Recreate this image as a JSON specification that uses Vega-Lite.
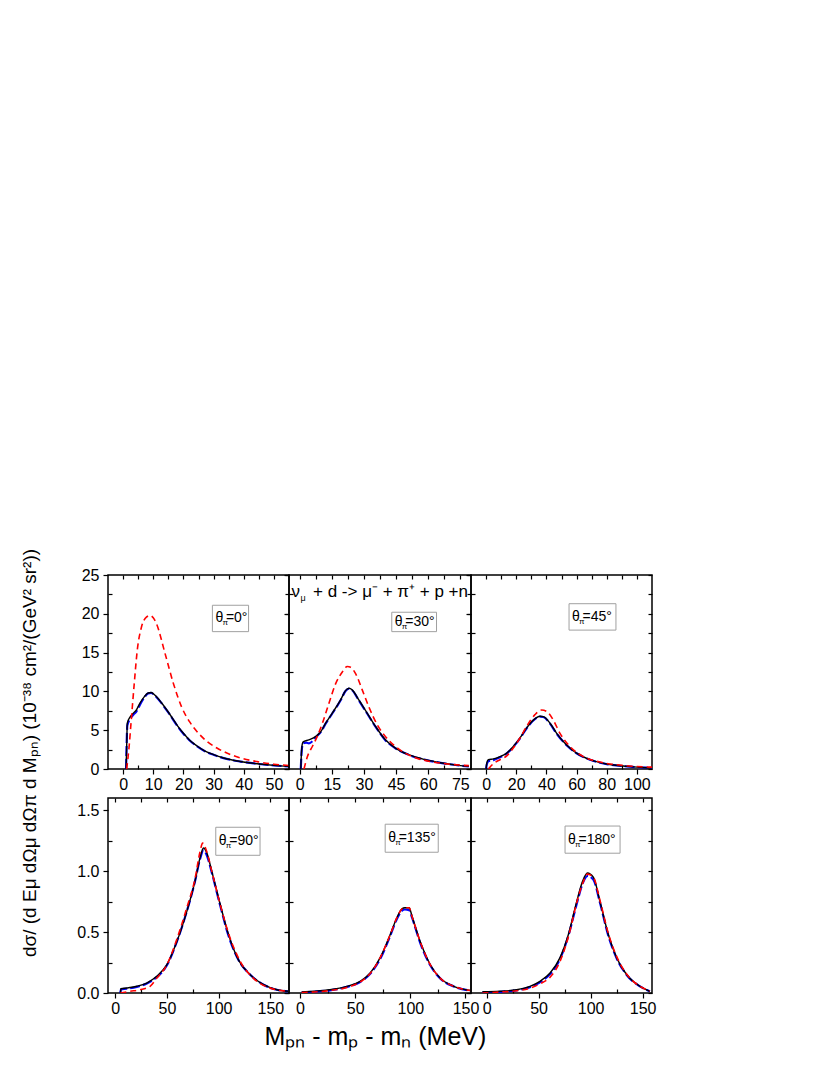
{
"$schema":"https://vega.github.io/schema/vega-lite/v6.json",
"padding":{"left":21,"top":548,"right":5,"bottom":5},
"config":{"font":"Liberation Sans","view":{"stroke":"black","strokeWidth":1.5},
"axis":{"grid":false,"domain":false,"tickColor":"black","tickWidth":1.2,"labelFontSize":16,"labelColor":"black","labelFont":"Liberation Sans"},
"title":{"color":"black","fontWeight":"normal","font":"Liberation Sans"}},
"datasets":{
"curves":[
{"p":"a","m":"k","x":1,"y":0},{"p":"a","m":"k","x":1.2,"y":3},{"p":"a","m":"k","x":1.4,"y":5.9},{"p":"a","m":"k","x":2.4,"y":6.75},{"p":"a","m":"k","x":3.4,"y":7.2},{"p":"a","m":"k","x":4.4,"y":7.6},{"p":"a","m":"k","x":5.6,"y":8.5},{"p":"a","m":"k","x":7,"y":9.3},{"p":"a","m":"k","x":8.3,"y":9.8},{"p":"a","m":"k","x":9.3,"y":9.85},{"p":"a","m":"k","x":10.6,"y":9.5},{"p":"a","m":"k","x":12.8,"y":8.5},{"p":"a","m":"k","x":14.5,"y":7.6},{"p":"a","m":"k","x":16.1,"y":6.7},{"p":"a","m":"k","x":18,"y":5.6},{"p":"a","m":"k","x":20,"y":4.6},{"p":"a","m":"k","x":22,"y":3.75},{"p":"a","m":"k","x":24.4,"y":3.0},{"p":"a","m":"k","x":27,"y":2.35},{"p":"a","m":"k","x":30,"y":1.85},{"p":"a","m":"k","x":33.3,"y":1.42},{"p":"a","m":"k","x":38.9,"y":0.97},{"p":"a","m":"k","x":44.4,"y":0.68},{"p":"a","m":"k","x":50,"y":0.47},{"p":"a","m":"k","x":55,"y":0.34},
{"p":"a","m":"b","x":1,"y":0},{"p":"a","m":"b","x":1.2,"y":3.5},{"p":"a","m":"b","x":1.4,"y":5.6},{"p":"a","m":"b","x":2.4,"y":6.5},{"p":"a","m":"b","x":3.4,"y":7.0},{"p":"a","m":"b","x":4.4,"y":7.4},{"p":"a","m":"b","x":5.6,"y":8.3},{"p":"a","m":"b","x":7,"y":9.2},{"p":"a","m":"b","x":8.3,"y":9.75},{"p":"a","m":"b","x":9.3,"y":9.8},{"p":"a","m":"b","x":10.6,"y":9.45},{"p":"a","m":"b","x":12.8,"y":8.45},{"p":"a","m":"b","x":14.5,"y":7.55},{"p":"a","m":"b","x":16.1,"y":6.65},{"p":"a","m":"b","x":18,"y":5.55},{"p":"a","m":"b","x":20,"y":4.55},{"p":"a","m":"b","x":22,"y":3.7},{"p":"a","m":"b","x":24.4,"y":2.96},{"p":"a","m":"b","x":27,"y":2.32},{"p":"a","m":"b","x":30,"y":1.83},{"p":"a","m":"b","x":33.3,"y":1.4},{"p":"a","m":"b","x":38.9,"y":0.96},{"p":"a","m":"b","x":44.4,"y":0.67},{"p":"a","m":"b","x":50,"y":0.46},{"p":"a","m":"b","x":55,"y":0.33},
{"p":"a","m":"r","x":1.2,"y":0},{"p":"a","m":"r","x":2.0,"y":2.9},{"p":"a","m":"r","x":2.8,"y":6.75},{"p":"a","m":"r","x":3.7,"y":11},{"p":"a","m":"r","x":4.7,"y":15.3},{"p":"a","m":"r","x":6.1,"y":18.3},{"p":"a","m":"r","x":7.8,"y":19.6},{"p":"a","m":"r","x":9,"y":19.8},{"p":"a","m":"r","x":10,"y":19.5},{"p":"a","m":"r","x":11.1,"y":18.7},{"p":"a","m":"r","x":13.9,"y":14.9},{"p":"a","m":"r","x":16.7,"y":11.0},{"p":"a","m":"r","x":19.4,"y":8.0},{"p":"a","m":"r","x":22.2,"y":6.0},{"p":"a","m":"r","x":25,"y":4.6},{"p":"a","m":"r","x":28,"y":3.5},{"p":"a","m":"r","x":31.1,"y":2.7},{"p":"a","m":"r","x":36.7,"y":1.7},{"p":"a","m":"r","x":44.4,"y":0.95},{"p":"a","m":"r","x":50,"y":0.62},{"p":"a","m":"r","x":55,"y":0.45},
{"p":"b","m":"k","x":0.5,"y":0},{"p":"b","m":"k","x":0.8,"y":2.0},{"p":"b","m":"k","x":1.2,"y":3.2},{"p":"b","m":"k","x":1.6,"y":3.5},{"p":"b","m":"k","x":4.3,"y":3.76},{"p":"b","m":"k","x":7.5,"y":4.2},{"p":"b","m":"k","x":9.8,"y":4.8},{"p":"b","m":"k","x":12.1,"y":5.9},{"p":"b","m":"k","x":15.2,"y":7.2},{"p":"b","m":"k","x":19.1,"y":8.9},{"p":"b","m":"k","x":21.4,"y":10.1},{"p":"b","m":"k","x":23,"y":10.4},{"p":"b","m":"k","x":24.5,"y":10.2},{"p":"b","m":"k","x":27.6,"y":8.9},{"p":"b","m":"k","x":31.5,"y":7.2},{"p":"b","m":"k","x":35.4,"y":5.5},{"p":"b","m":"k","x":40,"y":3.76},{"p":"b","m":"k","x":44.7,"y":2.7},{"p":"b","m":"k","x":50.9,"y":1.84},{"p":"b","m":"k","x":58.7,"y":1.2},{"p":"b","m":"k","x":66.5,"y":0.77},{"p":"b","m":"k","x":74.2,"y":0.47},{"p":"b","m":"k","x":79,"y":0.34},
{"p":"b","m":"b","x":0.5,"y":0},{"p":"b","m":"b","x":0.8,"y":1.8},{"p":"b","m":"b","x":1.2,"y":3.0},{"p":"b","m":"b","x":1.6,"y":3.3},{"p":"b","m":"b","x":3,"y":3.4},{"p":"b","m":"b","x":4.3,"y":3.3},{"p":"b","m":"b","x":6,"y":3.6},{"p":"b","m":"b","x":7.5,"y":4.1},{"p":"b","m":"b","x":9.8,"y":4.75},{"p":"b","m":"b","x":12.1,"y":5.85},{"p":"b","m":"b","x":15.2,"y":7.15},{"p":"b","m":"b","x":19.1,"y":8.85},{"p":"b","m":"b","x":21.4,"y":10.05},{"p":"b","m":"b","x":23,"y":10.35},{"p":"b","m":"b","x":24.5,"y":10.15},{"p":"b","m":"b","x":27.6,"y":8.85},{"p":"b","m":"b","x":31.5,"y":7.15},{"p":"b","m":"b","x":35.4,"y":5.45},{"p":"b","m":"b","x":40,"y":3.72},{"p":"b","m":"b","x":44.7,"y":2.67},{"p":"b","m":"b","x":50.9,"y":1.82},{"p":"b","m":"b","x":58.7,"y":1.18},{"p":"b","m":"b","x":66.5,"y":0.76},{"p":"b","m":"b","x":74.2,"y":0.46},{"p":"b","m":"b","x":79,"y":0.33},
{"p":"b","m":"r","x":2,"y":0},{"p":"b","m":"r","x":3.6,"y":1.6},{"p":"b","m":"r","x":5.9,"y":2.9},{"p":"b","m":"r","x":8.2,"y":4.2},{"p":"b","m":"r","x":10.6,"y":5.9},{"p":"b","m":"r","x":13.7,"y":8.5},{"p":"b","m":"r","x":16.8,"y":11},{"p":"b","m":"r","x":19.9,"y":12.5},{"p":"b","m":"r","x":22.2,"y":13.2},{"p":"b","m":"r","x":23.8,"y":13.1},{"p":"b","m":"r","x":26.1,"y":12.3},{"p":"b","m":"r","x":29.2,"y":10.2},{"p":"b","m":"r","x":32.3,"y":8},{"p":"b","m":"r","x":36.2,"y":5.7},{"p":"b","m":"r","x":40,"y":4.2},{"p":"b","m":"r","x":44.7,"y":2.9},{"p":"b","m":"r","x":52.5,"y":1.6},{"p":"b","m":"r","x":60.2,"y":1.0},{"p":"b","m":"r","x":68,"y":0.68},{"p":"b","m":"r","x":79,"y":0.43},
{"p":"c","m":"k","x":0,"y":0},{"p":"c","m":"k","x":0.5,"y":0.8},{"p":"c","m":"k","x":1.5,"y":1.2},{"p":"c","m":"k","x":4.8,"y":1.3},{"p":"c","m":"k","x":9.2,"y":1.6},{"p":"c","m":"k","x":13.7,"y":2.05},{"p":"c","m":"k","x":18,"y":2.9},{"p":"c","m":"k","x":22.5,"y":4.0},{"p":"c","m":"k","x":26.9,"y":5.3},{"p":"c","m":"k","x":31.3,"y":6.3},{"p":"c","m":"k","x":35.8,"y":6.8},{"p":"c","m":"k","x":38,"y":6.75},{"p":"c","m":"k","x":42.4,"y":5.9},{"p":"c","m":"k","x":46.8,"y":4.6},{"p":"c","m":"k","x":53.4,"y":3.1},{"p":"c","m":"k","x":60,"y":2.05},{"p":"c","m":"k","x":68.9,"y":1.2},{"p":"c","m":"k","x":80,"y":0.64},{"p":"c","m":"k","x":93.2,"y":0.34},{"p":"c","m":"k","x":106.5,"y":0.17},{"p":"c","m":"k","x":110,"y":0.15},
{"p":"c","m":"b","x":0,"y":0},{"p":"c","m":"b","x":0.5,"y":0.6},{"p":"c","m":"b","x":1.5,"y":1.0},{"p":"c","m":"b","x":4.8,"y":1.15},{"p":"c","m":"b","x":9.2,"y":1.5},{"p":"c","m":"b","x":13.7,"y":2.0},{"p":"c","m":"b","x":18,"y":2.85},{"p":"c","m":"b","x":22.5,"y":3.95},{"p":"c","m":"b","x":26.9,"y":5.25},{"p":"c","m":"b","x":31.3,"y":6.25},{"p":"c","m":"b","x":35.8,"y":6.75},{"p":"c","m":"b","x":38,"y":6.7},{"p":"c","m":"b","x":42.4,"y":5.85},{"p":"c","m":"b","x":46.8,"y":4.55},{"p":"c","m":"b","x":53.4,"y":3.07},{"p":"c","m":"b","x":60,"y":2.03},{"p":"c","m":"b","x":68.9,"y":1.19},{"p":"c","m":"b","x":80,"y":0.63},{"p":"c","m":"b","x":93.2,"y":0.33},{"p":"c","m":"b","x":106.5,"y":0.17},{"p":"c","m":"b","x":110,"y":0.15},
{"p":"c","m":"r","x":1.5,"y":0},{"p":"c","m":"r","x":4.8,"y":0.68},{"p":"c","m":"r","x":9.2,"y":1.2},{"p":"c","m":"r","x":13.7,"y":1.7},{"p":"c","m":"r","x":18,"y":2.7},{"p":"c","m":"r","x":22.5,"y":4.0},{"p":"c","m":"r","x":26.9,"y":5.5},{"p":"c","m":"r","x":32.4,"y":7.0},{"p":"c","m":"r","x":36.8,"y":7.6},{"p":"c","m":"r","x":40.2,"y":7.4},{"p":"c","m":"r","x":44.6,"y":6.3},{"p":"c","m":"r","x":49,"y":4.6},{"p":"c","m":"r","x":55.6,"y":2.9},{"p":"c","m":"r","x":64.5,"y":1.6},{"p":"c","m":"r","x":75.5,"y":0.9},{"p":"c","m":"r","x":91,"y":0.47},{"p":"c","m":"r","x":106.5,"y":0.26},{"p":"c","m":"r","x":110,"y":0.24},
{"p":"d","m":"k","x":5,"y":0},{"p":"d","m":"k","x":5.5,"y":0.035},{"p":"d","m":"k","x":11,"y":0.041},{"p":"d","m":"k","x":20.8,"y":0.055},{"p":"d","m":"k","x":30.5,"y":0.082},{"p":"d","m":"k","x":40.1,"y":0.137},{"p":"d","m":"k","x":49.8,"y":0.23},{"p":"d","m":"k","x":59.5,"y":0.42},{"p":"d","m":"k","x":69.2,"y":0.67},{"p":"d","m":"k","x":77.2,"y":0.92},{"p":"d","m":"k","x":82,"y":1.11},{"p":"d","m":"k","x":85.3,"y":1.19},{"p":"d","m":"k","x":88.5,"y":1.15},{"p":"d","m":"k","x":93.3,"y":1.0},{"p":"d","m":"k","x":101.4,"y":0.73},{"p":"d","m":"k","x":109.5,"y":0.48},{"p":"d","m":"k","x":119.2,"y":0.27},{"p":"d","m":"k","x":130.5,"y":0.15},{"p":"d","m":"k","x":143.4,"y":0.068},{"p":"d","m":"k","x":156.3,"y":0.027},{"p":"d","m":"k","x":167,"y":0.014},
{"p":"d","m":"b","x":5,"y":0},{"p":"d","m":"b","x":5.5,"y":0.03},{"p":"d","m":"b","x":11,"y":0.035},{"p":"d","m":"b","x":20.8,"y":0.05},{"p":"d","m":"b","x":30.5,"y":0.078},{"p":"d","m":"b","x":40.1,"y":0.13},{"p":"d","m":"b","x":49.8,"y":0.225},{"p":"d","m":"b","x":59.5,"y":0.42},{"p":"d","m":"b","x":69.2,"y":0.67},{"p":"d","m":"b","x":77.2,"y":0.92},{"p":"d","m":"b","x":82,"y":1.1},{"p":"d","m":"b","x":85.3,"y":1.17},{"p":"d","m":"b","x":88.5,"y":1.13},{"p":"d","m":"b","x":93.3,"y":0.99},{"p":"d","m":"b","x":101.4,"y":0.72},{"p":"d","m":"b","x":109.5,"y":0.47},{"p":"d","m":"b","x":119.2,"y":0.27},{"p":"d","m":"b","x":130.5,"y":0.15},{"p":"d","m":"b","x":143.4,"y":0.068},{"p":"d","m":"b","x":156.3,"y":0.027},{"p":"d","m":"b","x":167,"y":0.014},
{"p":"d","m":"r","x":5,"y":0},{"p":"d","m":"r","x":14.3,"y":0.014},{"p":"d","m":"r","x":24,"y":0.027},{"p":"d","m":"r","x":33.7,"y":0.055},{"p":"d","m":"r","x":40,"y":0.12},{"p":"d","m":"r","x":49.8,"y":0.23},{"p":"d","m":"r","x":59.5,"y":0.44},{"p":"d","m":"r","x":69.2,"y":0.7},{"p":"d","m":"r","x":77.2,"y":0.94},{"p":"d","m":"r","x":82,"y":1.16},{"p":"d","m":"r","x":84.5,"y":1.23},{"p":"d","m":"r","x":88.5,"y":1.16},{"p":"d","m":"r","x":93.3,"y":1.0},{"p":"d","m":"r","x":101.4,"y":0.73},{"p":"d","m":"r","x":109.5,"y":0.49},{"p":"d","m":"r","x":120.8,"y":0.26},{"p":"d","m":"r","x":133.7,"y":0.12},{"p":"d","m":"r","x":149.8,"y":0.04},{"p":"d","m":"r","x":167,"y":0.014},
{"p":"e","m":"k","x":1.5,"y":0.008},{"p":"e","m":"k","x":12,"y":0.014},{"p":"e","m":"k","x":27,"y":0.027},{"p":"e","m":"k","x":42.4,"y":0.055},{"p":"e","m":"k","x":54.5,"y":0.096},{"p":"e","m":"k","x":63.6,"y":0.164},{"p":"e","m":"k","x":72.7,"y":0.29},{"p":"e","m":"k","x":81.8,"y":0.48},{"p":"e","m":"k","x":87.9,"y":0.62},{"p":"e","m":"k","x":92.4,"y":0.69},{"p":"e","m":"k","x":95,"y":0.7},{"p":"e","m":"k","x":99,"y":0.7},{"p":"e","m":"k","x":101.5,"y":0.63},{"p":"e","m":"k","x":109,"y":0.42},{"p":"e","m":"k","x":118.2,"y":0.23},{"p":"e","m":"k","x":127.3,"y":0.12},{"p":"e","m":"k","x":139.4,"y":0.055},{"p":"e","m":"k","x":154.5,"y":0.02},
{"p":"e","m":"b","x":1.5,"y":0.006},{"p":"e","m":"b","x":12,"y":0.01},{"p":"e","m":"b","x":27,"y":0.022},{"p":"e","m":"b","x":42.4,"y":0.05},{"p":"e","m":"b","x":54.5,"y":0.09},{"p":"e","m":"b","x":63.6,"y":0.158},{"p":"e","m":"b","x":72.7,"y":0.28},{"p":"e","m":"b","x":81.8,"y":0.47},{"p":"e","m":"b","x":87.9,"y":0.61},{"p":"e","m":"b","x":92.4,"y":0.675},{"p":"e","m":"b","x":95,"y":0.685},{"p":"e","m":"b","x":99,"y":0.68},{"p":"e","m":"b","x":101.5,"y":0.62},{"p":"e","m":"b","x":109,"y":0.41},{"p":"e","m":"b","x":118.2,"y":0.225},{"p":"e","m":"b","x":127.3,"y":0.118},{"p":"e","m":"b","x":139.4,"y":0.054},{"p":"e","m":"b","x":154.5,"y":0.02},
{"p":"e","m":"r","x":1.5,"y":0.004},{"p":"e","m":"r","x":12,"y":0.008},{"p":"e","m":"r","x":27,"y":0.02},{"p":"e","m":"r","x":42.4,"y":0.045},{"p":"e","m":"r","x":54.5,"y":0.09},{"p":"e","m":"r","x":63.6,"y":0.16},{"p":"e","m":"r","x":72.7,"y":0.29},{"p":"e","m":"r","x":81.8,"y":0.48},{"p":"e","m":"r","x":87.9,"y":0.62},{"p":"e","m":"r","x":92.4,"y":0.69},{"p":"e","m":"r","x":95,"y":0.7},{"p":"e","m":"r","x":99,"y":0.7},{"p":"e","m":"r","x":101.5,"y":0.63},{"p":"e","m":"r","x":109,"y":0.42},{"p":"e","m":"r","x":118.2,"y":0.23},{"p":"e","m":"r","x":127.3,"y":0.12},{"p":"e","m":"r","x":139.4,"y":0.055},{"p":"e","m":"r","x":154.5,"y":0.02},
{"p":"f","m":"k","x":-4,"y":0.01},{"p":"f","m":"k","x":12.9,"y":0.014},{"p":"f","m":"k","x":28.9,"y":0.027},{"p":"f","m":"k","x":41.7,"y":0.055},{"p":"f","m":"k","x":51.3,"y":0.096},{"p":"f","m":"k","x":61,"y":0.164},{"p":"f","m":"k","x":70.6,"y":0.29},{"p":"f","m":"k","x":78.6,"y":0.48},{"p":"f","m":"k","x":86.6,"y":0.75},{"p":"f","m":"k","x":92.4,"y":0.92},{"p":"f","m":"k","x":96.9,"y":0.985},{"p":"f","m":"k","x":102.6,"y":0.95},{"p":"f","m":"k","x":109,"y":0.75},{"p":"f","m":"k","x":117,"y":0.48},{"p":"f","m":"k","x":125,"y":0.29},{"p":"f","m":"k","x":134.7,"y":0.15},{"p":"f","m":"k","x":147.5,"y":0.055},{"p":"f","m":"k","x":157,"y":0.014},
{"p":"f","m":"b","x":-4,"y":0.005},{"p":"f","m":"b","x":12.9,"y":0.01},{"p":"f","m":"b","x":28.9,"y":0.022},{"p":"f","m":"b","x":41.7,"y":0.048},{"p":"f","m":"b","x":51.3,"y":0.088},{"p":"f","m":"b","x":61,"y":0.155},{"p":"f","m":"b","x":70.6,"y":0.28},{"p":"f","m":"b","x":78.6,"y":0.47},{"p":"f","m":"b","x":86.6,"y":0.73},{"p":"f","m":"b","x":92.4,"y":0.9},{"p":"f","m":"b","x":96.9,"y":0.96},{"p":"f","m":"b","x":102.6,"y":0.93},{"p":"f","m":"b","x":109,"y":0.74},{"p":"f","m":"b","x":117,"y":0.47},{"p":"f","m":"b","x":125,"y":0.285},{"p":"f","m":"b","x":134.7,"y":0.148},{"p":"f","m":"b","x":147.5,"y":0.054},{"p":"f","m":"b","x":157,"y":0.014},
{"p":"f","m":"r","x":-4,"y":0},{"p":"f","m":"r","x":12.9,"y":0.008},{"p":"f","m":"r","x":28.9,"y":0.018},{"p":"f","m":"r","x":41.7,"y":0.04},{"p":"f","m":"r","x":51.3,"y":0.075},{"p":"f","m":"r","x":61,"y":0.13},{"p":"f","m":"r","x":70.6,"y":0.26},{"p":"f","m":"r","x":78.6,"y":0.46},{"p":"f","m":"r","x":86.6,"y":0.74},{"p":"f","m":"r","x":92.4,"y":0.9},{"p":"f","m":"r","x":96.9,"y":0.975},{"p":"f","m":"r","x":102.6,"y":0.95},{"p":"f","m":"r","x":109,"y":0.76},{"p":"f","m":"r","x":117,"y":0.49},{"p":"f","m":"r","x":125,"y":0.3},{"p":"f","m":"r","x":134.7,"y":0.155},{"p":"f","m":"r","x":147.5,"y":0.055},{"p":"f","m":"r","x":157,"y":0.016}
],
"boxes":[
{"p":"a","lx":29.6,"rx":41.6,"ty":21.1,"by":17.7,"my":19.4,"t":"=0°"},
{"p":"b","lx":43,"rx":63.9,"ty":20.2,"by":17.7,"my":18.95,"t":"=30°"},
{"p":"c","lx":55,"rx":86.1,"ty":21.3,"by":17.9,"my":19.6,"t":"=45°"},
{"p":"d","lx":97.2,"rx":140,"ty":1.36,"by":1.13,"my":1.245,"t":"=90°"},
{"p":"e","lx":77.2,"rx":125.3,"ty":1.385,"by":1.155,"my":1.27,"t":"=135°"},
{"p":"f","lx":75.4,"rx":128.3,"ty":1.37,"by":1.147,"my":1.258,"t":"=180°"}
]},
"title":{"text":"dσ/ (d Eμ dΩμ dΩπ d Mₚₙ) (10⁻³⁸ cm²/(GeV² sr²))","orient":"left","anchor":"middle","fontSize":19,"offset":36,"dx":55},
"spacing":3,
"vconcat":[
{"spacing":0,"bounds":"flush","hconcat":[
{"width":181,"height":194,"resolve":{"axis":{"x":"independent","y":"independent"}},"layer":[
{"data":{"name":"curves"},"transform":[{"filter":"datum.p=='a' && datum.m=='b'"}],"mark":{"type":"line","color":"#0000ff","strokeWidth":2.2,"strokeDash":[10,3],"interpolate":"monotone","clip":true},
"encoding":{"x":{"field":"x","type":"quantitative","scale":{"domain":[-5,55],"nice":false,"zero":false},"axis":{"orient":"bottom","values":[0,10,20,30,40,50],"tickSize":5,"title":null,"labelFlush":false,"labelOverlap":false,"labelPadding":2}},
"y":{"field":"y","type":"quantitative","scale":{"domain":[0,25],"nice":false,"zero":false},"axis":{"orient":"left","values":[0,5,10,15,20,25],"tickSize":5,"title":null,"labelFlush":false,"labelOverlap":false,"labelPadding":4}}}},
{"data":{"name":"curves"},"transform":[{"filter":"datum.p=='a' && datum.m=='k'"}],"mark":{"type":"line","color":"black","strokeWidth":1.4,"interpolate":"monotone","clip":true},
"encoding":{"x":{"field":"x","type":"quantitative","scale":{"domain":[-5,55],"nice":false,"zero":false},"axis":{"orient":"bottom","values":[5,15,25,35,45],"tickSize":-4,"labels":false,"title":null}},
"y":{"field":"y","type":"quantitative","scale":{"domain":[0,25],"nice":false,"zero":false},"axis":{"orient":"left","values":[2.5,7.5,12.5,17.5,22.5],"tickSize":-4,"labels":false,"title":null}}}},
{"data":{"name":"curves"},"transform":[{"filter":"datum.p=='a' && datum.m=='r'"}],"mark":{"type":"line","color":"#ff0000","strokeWidth":1.6,"strokeDash":[6,4],"interpolate":"monotone","clip":true},
"encoding":{"x":{"field":"x","type":"quantitative","scale":{"domain":[-5,55],"nice":false,"zero":false},"axis":null},"y":{"field":"y","type":"quantitative","scale":{"domain":[0,25],"nice":false,"zero":false},"axis":null}}},
{"data":{"name":"boxes"},"transform":[{"filter":"datum.p=='a'"}],"mark":{"type":"rect","fill":"white","stroke":"#a0a0a0","strokeWidth":1},
"encoding":{"x":{"field":"lx","type":"quantitative","scale":{"domain":[-5,55],"nice":false,"zero":false},"axis":{"orient":"top","values":[0,5,10,15,20,25,30,35,40,45,50],"tickSize":-4,"labels":false,"title":null}},"x2":{"field":"rx"},
"y":{"field":"ty","type":"quantitative","scale":{"domain":[0,25],"nice":false,"zero":false},"axis":{"orient":"right","values":[0,2.5,5,7.5,10,12.5,15,17.5,20,22.5,25],"tickSize":-4,"labels":false,"title":null}},"y2":{"field":"by"}}},
{"data":{"name":"boxes"},"transform":[{"filter":"datum.p=='a'"}],"mark":{"type":"text","text":"θ","align":"left","baseline":"middle","dx":3,"fontSize":14},
"encoding":{"x":{"field":"lx","type":"quantitative","scale":{"domain":[-5,55],"nice":false,"zero":false},"axis":null},"y":{"field":"my","type":"quantitative","scale":{"domain":[0,25],"nice":false,"zero":false},"axis":null}}},
{"data":{"name":"boxes"},"transform":[{"filter":"datum.p=='a'"}],"mark":{"type":"text","text":"π","align":"left","baseline":"middle","dx":10,"dy":5,"fontSize":8},
"encoding":{"x":{"field":"lx","type":"quantitative","scale":{"domain":[-5,55],"nice":false,"zero":false},"axis":null},"y":{"field":"my","type":"quantitative","scale":{"domain":[0,25],"nice":false,"zero":false},"axis":null}}},
{"data":{"name":"boxes"},"transform":[{"filter":"datum.p=='a'"}],"mark":{"type":"text","align":"left","baseline":"middle","dx":13.5,"fontSize":14},
"encoding":{"text":{"field":"t"},"x":{"field":"lx","type":"quantitative","scale":{"domain":[-5,55],"nice":false,"zero":false},"axis":null},"y":{"field":"my","type":"quantitative","scale":{"domain":[0,25],"nice":false,"zero":false},"axis":null}}}
]},
{"width":182,"height":194,"resolve":{"axis":{"x":"independent","y":"independent"}},"layer":[
{"data":{"name":"curves"},"transform":[{"filter":"datum.p=='b' && datum.m=='b'"}],"mark":{"type":"line","color":"#0000ff","strokeWidth":2.2,"strokeDash":[10,3],"interpolate":"monotone","clip":true},
"encoding":{"x":{"field":"x","type":"quantitative","scale":{"domain":[-5,80],"nice":false,"zero":false},"axis":{"orient":"bottom","values":[0,15,30,45,60,75],"tickSize":5,"title":null,"labelFlush":false,"labelOverlap":false,"labelPadding":2}},
"y":{"field":"y","type":"quantitative","scale":{"domain":[0,25],"nice":false,"zero":false},"axis":{"orient":"left","values":[0,5,10,15,20,25],"tickSize":5,"labels":false,"title":null}}}},
{"data":{"name":"curves"},"transform":[{"filter":"datum.p=='b' && datum.m=='k'"}],"mark":{"type":"line","color":"black","strokeWidth":1.4,"interpolate":"monotone","clip":true},
"encoding":{"x":{"field":"x","type":"quantitative","scale":{"domain":[-5,80],"nice":false,"zero":false},"axis":{"orient":"bottom","values":[7.5,22.5,37.5,52.5,67.5],"tickSize":-4,"labels":false,"title":null}},
"y":{"field":"y","type":"quantitative","scale":{"domain":[0,25],"nice":false,"zero":false},"axis":{"orient":"left","values":[2.5,7.5,12.5,17.5,22.5],"tickSize":-4,"labels":false,"title":null}}}},
{"data":{"name":"curves"},"transform":[{"filter":"datum.p=='b' && datum.m=='r'"}],"mark":{"type":"line","color":"#ff0000","strokeWidth":1.6,"strokeDash":[6,4],"interpolate":"monotone","clip":true},
"encoding":{"x":{"field":"x","type":"quantitative","scale":{"domain":[-5,80],"nice":false,"zero":false},"axis":null},"y":{"field":"y","type":"quantitative","scale":{"domain":[0,25],"nice":false,"zero":false},"axis":null}}},
{"data":{"name":"boxes"},"transform":[{"filter":"datum.p=='b'"}],"mark":{"type":"rect","fill":"white","stroke":"#a0a0a0","strokeWidth":1},
"encoding":{"x":{"field":"lx","type":"quantitative","scale":{"domain":[-5,80],"nice":false,"zero":false},"axis":{"orient":"top","values":[0,7.5,15,22.5,30,37.5,45,52.5,60,67.5,75],"tickSize":-4,"labels":false,"title":null}},"x2":{"field":"rx"},
"y":{"field":"ty","type":"quantitative","scale":{"domain":[0,25],"nice":false,"zero":false},"axis":{"orient":"right","values":[0,2.5,5,7.5,10,12.5,15,17.5,20,22.5,25],"tickSize":-4,"labels":false,"title":null}},"y2":{"field":"by"}}},
{"data":{"name":"boxes"},"transform":[{"filter":"datum.p=='b'"}],"mark":{"type":"text","text":"θ","align":"left","baseline":"middle","dx":3,"fontSize":14},
"encoding":{"x":{"field":"lx","type":"quantitative","scale":{"domain":[-5,80],"nice":false,"zero":false},"axis":null},"y":{"field":"my","type":"quantitative","scale":{"domain":[0,25],"nice":false,"zero":false},"axis":null}}},
{"data":{"name":"boxes"},"transform":[{"filter":"datum.p=='b'"}],"mark":{"type":"text","text":"π","align":"left","baseline":"middle","dx":10,"dy":5,"fontSize":8},
"encoding":{"x":{"field":"lx","type":"quantitative","scale":{"domain":[-5,80],"nice":false,"zero":false},"axis":null},"y":{"field":"my","type":"quantitative","scale":{"domain":[0,25],"nice":false,"zero":false},"axis":null}}},
{"data":{"name":"boxes"},"transform":[{"filter":"datum.p=='b'"}],"mark":{"type":"text","align":"left","baseline":"middle","dx":13.5,"fontSize":14},
"encoding":{"text":{"field":"t"},"x":{"field":"lx","type":"quantitative","scale":{"domain":[-5,80],"nice":false,"zero":false},"axis":null},"y":{"field":"my","type":"quantitative","scale":{"domain":[0,25],"nice":false,"zero":false},"axis":null}}},
{"data":{"values":[{}]},"mark":{"type":"text","text":"ν","align":"left","baseline":"alphabetic","dx":2.5,"fontSize":17},
"encoding":{"x":{"datum":-5,"type":"quantitative","scale":{"domain":[-5,80],"nice":false,"zero":false},"axis":null},"y":{"datum":22.2,"type":"quantitative","scale":{"domain":[0,25],"nice":false,"zero":false},"axis":null}}},
{"data":{"values":[{}]},"mark":{"type":"text","text":"μ","align":"left","baseline":"alphabetic","dx":11.5,"dy":4,"fontSize":9},
"encoding":{"x":{"datum":-5,"type":"quantitative","scale":{"domain":[-5,80],"nice":false,"zero":false},"axis":null},"y":{"datum":22.2,"type":"quantitative","scale":{"domain":[0,25],"nice":false,"zero":false},"axis":null}}},
{"data":{"values":[{}]},"mark":{"type":"text","text":"+ d -> μ⁻ + π⁺ + p +n","align":"left","baseline":"alphabetic","dx":24,"fontSize":17},
"encoding":{"x":{"datum":-5,"type":"quantitative","scale":{"domain":[-5,80],"nice":false,"zero":false},"axis":null},"y":{"datum":22.2,"type":"quantitative","scale":{"domain":[0,25],"nice":false,"zero":false},"axis":null}}}
]},
{"width":181,"height":194,"resolve":{"axis":{"x":"independent","y":"independent"}},"layer":[
{"data":{"name":"curves"},"transform":[{"filter":"datum.p=='c' && datum.m=='b'"}],"mark":{"type":"line","color":"#0000ff","strokeWidth":2.2,"strokeDash":[10,3],"interpolate":"monotone","clip":true},
"encoding":{"x":{"field":"x","type":"quantitative","scale":{"domain":[-10,110],"nice":false,"zero":false},"axis":{"orient":"bottom","values":[0,20,40,60,80,100],"tickSize":5,"title":null,"labelFlush":false,"labelOverlap":false,"labelPadding":2}},
"y":{"field":"y","type":"quantitative","scale":{"domain":[0,25],"nice":false,"zero":false},"axis":{"orient":"left","values":[0,5,10,15,20,25],"tickSize":5,"labels":false,"title":null}}}},
{"data":{"name":"curves"},"transform":[{"filter":"datum.p=='c' && datum.m=='k'"}],"mark":{"type":"line","color":"black","strokeWidth":1.4,"interpolate":"monotone","clip":true},
"encoding":{"x":{"field":"x","type":"quantitative","scale":{"domain":[-10,110],"nice":false,"zero":false},"axis":{"orient":"bottom","values":[10,30,50,70,90],"tickSize":-4,"labels":false,"title":null}},
"y":{"field":"y","type":"quantitative","scale":{"domain":[0,25],"nice":false,"zero":false},"axis":{"orient":"left","values":[2.5,7.5,12.5,17.5,22.5],"tickSize":-4,"labels":false,"title":null}}}},
{"data":{"name":"curves"},"transform":[{"filter":"datum.p=='c' && datum.m=='r'"}],"mark":{"type":"line","color":"#ff0000","strokeWidth":1.6,"strokeDash":[6,4],"interpolate":"monotone","clip":true},
"encoding":{"x":{"field":"x","type":"quantitative","scale":{"domain":[-10,110],"nice":false,"zero":false},"axis":null},"y":{"field":"y","type":"quantitative","scale":{"domain":[0,25],"nice":false,"zero":false},"axis":null}}},
{"data":{"name":"boxes"},"transform":[{"filter":"datum.p=='c'"}],"mark":{"type":"rect","fill":"white","stroke":"#a0a0a0","strokeWidth":1},
"encoding":{"x":{"field":"lx","type":"quantitative","scale":{"domain":[-10,110],"nice":false,"zero":false},"axis":{"orient":"top","values":[0,10,20,30,40,50,60,70,80,90,100],"tickSize":-4,"labels":false,"title":null}},"x2":{"field":"rx"},
"y":{"field":"ty","type":"quantitative","scale":{"domain":[0,25],"nice":false,"zero":false},"axis":{"orient":"right","values":[0,2.5,5,7.5,10,12.5,15,17.5,20,22.5,25],"tickSize":-4,"labels":false,"title":null}},"y2":{"field":"by"}}},
{"data":{"name":"boxes"},"transform":[{"filter":"datum.p=='c'"}],"mark":{"type":"text","text":"θ","align":"left","baseline":"middle","dx":3,"fontSize":14},
"encoding":{"x":{"field":"lx","type":"quantitative","scale":{"domain":[-10,110],"nice":false,"zero":false},"axis":null},"y":{"field":"my","type":"quantitative","scale":{"domain":[0,25],"nice":false,"zero":false},"axis":null}}},
{"data":{"name":"boxes"},"transform":[{"filter":"datum.p=='c'"}],"mark":{"type":"text","text":"π","align":"left","baseline":"middle","dx":10,"dy":5,"fontSize":8},
"encoding":{"x":{"field":"lx","type":"quantitative","scale":{"domain":[-10,110],"nice":false,"zero":false},"axis":null},"y":{"field":"my","type":"quantitative","scale":{"domain":[0,25],"nice":false,"zero":false},"axis":null}}},
{"data":{"name":"boxes"},"transform":[{"filter":"datum.p=='c'"}],"mark":{"type":"text","align":"left","baseline":"middle","dx":13.5,"fontSize":14},
"encoding":{"text":{"field":"t"},"x":{"field":"lx","type":"quantitative","scale":{"domain":[-10,110],"nice":false,"zero":false},"axis":null},"y":{"field":"my","type":"quantitative","scale":{"domain":[0,25],"nice":false,"zero":false},"axis":null}}}
]}
]},
{"spacing":0,"bounds":"flush","title":{"text":"Mₚₙ - mₚ - mₙ (MeV)","orient":"bottom","anchor":"middle","fontSize":25,"offset":8,"dx":9},"hconcat":[
{"width":181,"height":195,"resolve":{"axis":{"x":"independent","y":"independent"}},"layer":[
{"data":{"name":"curves"},"transform":[{"filter":"datum.p=='d' && datum.m=='b'"}],"mark":{"type":"line","color":"#0000ff","strokeWidth":2.2,"strokeDash":[10,3],"interpolate":"monotone","clip":true},
"encoding":{"x":{"field":"x","type":"quantitative","scale":{"domain":[-7,168],"nice":false,"zero":false},"axis":{"orient":"bottom","values":[0,50,100,150],"tickSize":5,"title":null,"labelFlush":false,"labelOverlap":false,"labelPadding":2}},
"y":{"field":"y","type":"quantitative","scale":{"domain":[0,1.6],"nice":false,"zero":false},"axis":{"orient":"left","values":[0,0.5,1,1.5],"format":".1f","tickSize":5,"title":null,"labelFlush":false,"labelOverlap":false,"labelPadding":4}}}},
{"data":{"name":"curves"},"transform":[{"filter":"datum.p=='d' && datum.m=='k'"}],"mark":{"type":"line","color":"black","strokeWidth":1.4,"interpolate":"monotone","clip":true},
"encoding":{"x":{"field":"x","type":"quantitative","scale":{"domain":[-7,168],"nice":false,"zero":false},"axis":{"orient":"bottom","values":[25,75,125],"tickSize":-4,"labels":false,"title":null}},
"y":{"field":"y","type":"quantitative","scale":{"domain":[0,1.6],"nice":false,"zero":false},"axis":{"orient":"left","values":[0.25,0.75,1.25],"tickSize":-4,"labels":false,"title":null}}}},
{"data":{"name":"curves"},"transform":[{"filter":"datum.p=='d' && datum.m=='r'"}],"mark":{"type":"line","color":"#ff0000","strokeWidth":1.6,"strokeDash":[6,4],"interpolate":"monotone","clip":true},
"encoding":{"x":{"field":"x","type":"quantitative","scale":{"domain":[-7,168],"nice":false,"zero":false},"axis":null},"y":{"field":"y","type":"quantitative","scale":{"domain":[0,1.6],"nice":false,"zero":false},"axis":null}}},
{"data":{"name":"boxes"},"transform":[{"filter":"datum.p=='d'"}],"mark":{"type":"rect","fill":"white","stroke":"#a0a0a0","strokeWidth":1},
"encoding":{"x":{"field":"lx","type":"quantitative","scale":{"domain":[-7,168],"nice":false,"zero":false},"axis":{"orient":"top","values":[0,25,50,75,100,125,150],"tickSize":-4,"labels":false,"title":null}},"x2":{"field":"rx"},
"y":{"field":"ty","type":"quantitative","scale":{"domain":[0,1.6],"nice":false,"zero":false},"axis":{"orient":"right","values":[0,0.25,0.5,0.75,1,1.25,1.5],"tickSize":-4,"labels":false,"title":null}},"y2":{"field":"by"}}},
{"data":{"name":"boxes"},"transform":[{"filter":"datum.p=='d'"}],"mark":{"type":"text","text":"θ","align":"left","baseline":"middle","dx":3,"fontSize":14},
"encoding":{"x":{"field":"lx","type":"quantitative","scale":{"domain":[-7,168],"nice":false,"zero":false},"axis":null},"y":{"field":"my","type":"quantitative","scale":{"domain":[0,1.6],"nice":false,"zero":false},"axis":null}}},
{"data":{"name":"boxes"},"transform":[{"filter":"datum.p=='d'"}],"mark":{"type":"text","text":"π","align":"left","baseline":"middle","dx":10,"dy":5,"fontSize":8},
"encoding":{"x":{"field":"lx","type":"quantitative","scale":{"domain":[-7,168],"nice":false,"zero":false},"axis":null},"y":{"field":"my","type":"quantitative","scale":{"domain":[0,1.6],"nice":false,"zero":false},"axis":null}}},
{"data":{"name":"boxes"},"transform":[{"filter":"datum.p=='d'"}],"mark":{"type":"text","align":"left","baseline":"middle","dx":13.5,"fontSize":14},
"encoding":{"text":{"field":"t"},"x":{"field":"lx","type":"quantitative","scale":{"domain":[-7,168],"nice":false,"zero":false},"axis":null},"y":{"field":"my","type":"quantitative","scale":{"domain":[0,1.6],"nice":false,"zero":false},"axis":null}}}
]},
{"width":182,"height":195,"resolve":{"axis":{"x":"independent","y":"independent"}},"layer":[
{"data":{"name":"curves"},"transform":[{"filter":"datum.p=='e' && datum.m=='b'"}],"mark":{"type":"line","color":"#0000ff","strokeWidth":2.2,"strokeDash":[10,3],"interpolate":"monotone","clip":true},
"encoding":{"x":{"field":"x","type":"quantitative","scale":{"domain":[-10,155],"nice":false,"zero":false},"axis":{"orient":"bottom","values":[0,50,100,150],"tickSize":5,"title":null,"labelFlush":false,"labelOverlap":false,"labelPadding":2}},
"y":{"field":"y","type":"quantitative","scale":{"domain":[0,1.6],"nice":false,"zero":false},"axis":{"orient":"left","values":[0,0.5,1,1.5],"tickSize":5,"labels":false,"title":null}}}},
{"data":{"name":"curves"},"transform":[{"filter":"datum.p=='e' && datum.m=='k'"}],"mark":{"type":"line","color":"black","strokeWidth":1.4,"interpolate":"monotone","clip":true},
"encoding":{"x":{"field":"x","type":"quantitative","scale":{"domain":[-10,155],"nice":false,"zero":false},"axis":{"orient":"bottom","values":[25,75,125],"tickSize":-4,"labels":false,"title":null}},
"y":{"field":"y","type":"quantitative","scale":{"domain":[0,1.6],"nice":false,"zero":false},"axis":{"orient":"left","values":[0.25,0.75,1.25],"tickSize":-4,"labels":false,"title":null}}}},
{"data":{"name":"curves"},"transform":[{"filter":"datum.p=='e' && datum.m=='r'"}],"mark":{"type":"line","color":"#ff0000","strokeWidth":1.6,"strokeDash":[6,4],"interpolate":"monotone","clip":true},
"encoding":{"x":{"field":"x","type":"quantitative","scale":{"domain":[-10,155],"nice":false,"zero":false},"axis":null},"y":{"field":"y","type":"quantitative","scale":{"domain":[0,1.6],"nice":false,"zero":false},"axis":null}}},
{"data":{"name":"boxes"},"transform":[{"filter":"datum.p=='e'"}],"mark":{"type":"rect","fill":"white","stroke":"#a0a0a0","strokeWidth":1},
"encoding":{"x":{"field":"lx","type":"quantitative","scale":{"domain":[-10,155],"nice":false,"zero":false},"axis":{"orient":"top","values":[0,25,50,75,100,125,150],"tickSize":-4,"labels":false,"title":null}},"x2":{"field":"rx"},
"y":{"field":"ty","type":"quantitative","scale":{"domain":[0,1.6],"nice":false,"zero":false},"axis":{"orient":"right","values":[0,0.25,0.5,0.75,1,1.25,1.5],"tickSize":-4,"labels":false,"title":null}},"y2":{"field":"by"}}},
{"data":{"name":"boxes"},"transform":[{"filter":"datum.p=='e'"}],"mark":{"type":"text","text":"θ","align":"left","baseline":"middle","dx":3,"fontSize":14},
"encoding":{"x":{"field":"lx","type":"quantitative","scale":{"domain":[-10,155],"nice":false,"zero":false},"axis":null},"y":{"field":"my","type":"quantitative","scale":{"domain":[0,1.6],"nice":false,"zero":false},"axis":null}}},
{"data":{"name":"boxes"},"transform":[{"filter":"datum.p=='e'"}],"mark":{"type":"text","text":"π","align":"left","baseline":"middle","dx":10,"dy":5,"fontSize":8},
"encoding":{"x":{"field":"lx","type":"quantitative","scale":{"domain":[-10,155],"nice":false,"zero":false},"axis":null},"y":{"field":"my","type":"quantitative","scale":{"domain":[0,1.6],"nice":false,"zero":false},"axis":null}}},
{"data":{"name":"boxes"},"transform":[{"filter":"datum.p=='e'"}],"mark":{"type":"text","align":"left","baseline":"middle","dx":13.5,"fontSize":14},
"encoding":{"text":{"field":"t"},"x":{"field":"lx","type":"quantitative","scale":{"domain":[-10,155],"nice":false,"zero":false},"axis":null},"y":{"field":"my","type":"quantitative","scale":{"domain":[0,1.6],"nice":false,"zero":false},"axis":null}}}
]},
{"width":181,"height":195,"resolve":{"axis":{"x":"independent","y":"independent"}},"layer":[
{"data":{"name":"curves"},"transform":[{"filter":"datum.p=='f' && datum.m=='b'"}],"mark":{"type":"line","color":"#0000ff","strokeWidth":2.2,"strokeDash":[10,3],"interpolate":"monotone","clip":true},
"encoding":{"x":{"field":"x","type":"quantitative","scale":{"domain":[-15,159],"nice":false,"zero":false},"axis":{"orient":"bottom","values":[0,50,100,150],"tickSize":5,"title":null,"labelFlush":false,"labelOverlap":false,"labelPadding":2}},
"y":{"field":"y","type":"quantitative","scale":{"domain":[0,1.6],"nice":false,"zero":false},"axis":{"orient":"left","values":[0,0.5,1,1.5],"tickSize":5,"labels":false,"title":null}}}},
{"data":{"name":"curves"},"transform":[{"filter":"datum.p=='f' && datum.m=='k'"}],"mark":{"type":"line","color":"black","strokeWidth":1.4,"interpolate":"monotone","clip":true},
"encoding":{"x":{"field":"x","type":"quantitative","scale":{"domain":[-15,159],"nice":false,"zero":false},"axis":{"orient":"bottom","values":[25,75,125],"tickSize":-4,"labels":false,"title":null}},
"y":{"field":"y","type":"quantitative","scale":{"domain":[0,1.6],"nice":false,"zero":false},"axis":{"orient":"left","values":[0.25,0.75,1.25],"tickSize":-4,"labels":false,"title":null}}}},
{"data":{"name":"curves"},"transform":[{"filter":"datum.p=='f' && datum.m=='r'"}],"mark":{"type":"line","color":"#ff0000","strokeWidth":1.6,"strokeDash":[6,4],"interpolate":"monotone","clip":true},
"encoding":{"x":{"field":"x","type":"quantitative","scale":{"domain":[-15,159],"nice":false,"zero":false},"axis":null},"y":{"field":"y","type":"quantitative","scale":{"domain":[0,1.6],"nice":false,"zero":false},"axis":null}}},
{"data":{"name":"boxes"},"transform":[{"filter":"datum.p=='f'"}],"mark":{"type":"rect","fill":"white","stroke":"#a0a0a0","strokeWidth":1},
"encoding":{"x":{"field":"lx","type":"quantitative","scale":{"domain":[-15,159],"nice":false,"zero":false},"axis":{"orient":"top","values":[0,25,50,75,100,125,150],"tickSize":-4,"labels":false,"title":null}},"x2":{"field":"rx"},
"y":{"field":"ty","type":"quantitative","scale":{"domain":[0,1.6],"nice":false,"zero":false},"axis":{"orient":"right","values":[0,0.25,0.5,0.75,1,1.25,1.5],"tickSize":-4,"labels":false,"title":null}},"y2":{"field":"by"}}},
{"data":{"name":"boxes"},"transform":[{"filter":"datum.p=='f'"}],"mark":{"type":"text","text":"θ","align":"left","baseline":"middle","dx":3,"fontSize":14},
"encoding":{"x":{"field":"lx","type":"quantitative","scale":{"domain":[-15,159],"nice":false,"zero":false},"axis":null},"y":{"field":"my","type":"quantitative","scale":{"domain":[0,1.6],"nice":false,"zero":false},"axis":null}}},
{"data":{"name":"boxes"},"transform":[{"filter":"datum.p=='f'"}],"mark":{"type":"text","text":"π","align":"left","baseline":"middle","dx":10,"dy":5,"fontSize":8},
"encoding":{"x":{"field":"lx","type":"quantitative","scale":{"domain":[-15,159],"nice":false,"zero":false},"axis":null},"y":{"field":"my","type":"quantitative","scale":{"domain":[0,1.6],"nice":false,"zero":false},"axis":null}}},
{"data":{"name":"boxes"},"transform":[{"filter":"datum.p=='f'"}],"mark":{"type":"text","align":"left","baseline":"middle","dx":13.5,"fontSize":14},
"encoding":{"text":{"field":"t"},"x":{"field":"lx","type":"quantitative","scale":{"domain":[-15,159],"nice":false,"zero":false},"axis":null},"y":{"field":"my","type":"quantitative","scale":{"domain":[0,1.6],"nice":false,"zero":false},"axis":null}}}
]}
]}
]
}
